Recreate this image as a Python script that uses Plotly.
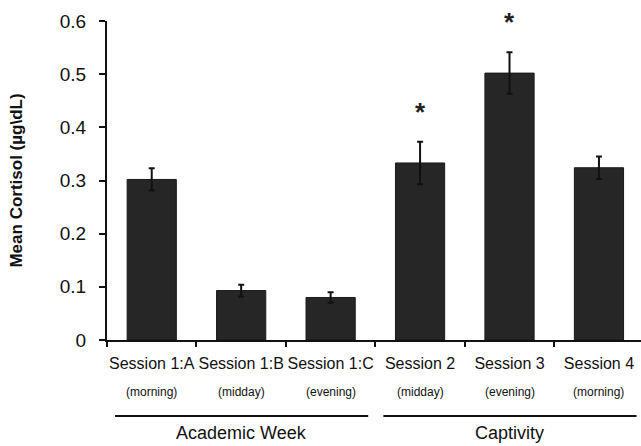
import plotly.graph_objects as go

sessions = ["Session 1:A", "Session 1:B", "Session 1:C", "Session 2", "Session 3", "Session 4"]
times = ["(morning)", "(midday)", "(evening)", "(midday)", "(evening)", "(morning)"]
cortisol = [0.302, 0.093, 0.080, 0.333, 0.502, 0.324]
sem = [0.021, 0.011, 0.010, 0.040, 0.039, 0.021]
significant = [False, False, False, True, True, False]
groups = ["Academic Week", "Captivity"]
group_members = [[0, 1, 2], [3, 4, 5]]

FONT = "Liberation Sans, Arial, sans-serif"

fig = go.Figure()
fig.add_trace(go.Bar(
    x=sessions, y=cortisol, width=0.55,
    marker=dict(color="#262626", line=dict(color="#1a1a1a", width=1)),
    error_y=dict(type="data", array=sem, visible=True, color="#111111", thickness=2, width=3),
    cliponaxis=False,
))

annotations = []
for i, (v, e, s) in enumerate(zip(cortisol, sem, significant)):
    if s:
        annotations.append(dict(x=i, y=v + e, xref="x", yref="y", text="<b>*</b>",
                                showarrow=False, font=dict(size=26, color="#222", family=FONT),
                                yanchor="middle", yshift=30))
for i, t in enumerate(times):
    annotations.append(dict(x=i, y=0, xref="x", yref="paper", text=t, showarrow=False,
                            yshift=-52, yanchor="middle", font=dict(size=12, color="#111", family=FONT)))

shapes = []
for g, members in zip(groups, group_members):
    lo, hi = min(members), max(members)
    shapes.append(dict(type="line", xref="x", yref="paper", x0=lo - 0.41, x1=hi + 0.42,
                       ysizemode="pixel", yanchor=0, y0=-76, y1=-76,
                       line=dict(color="#111", width=2)))
    annotations.append(dict(x=(lo + hi) / 2, y=0, xref="x", yref="paper", text=g, showarrow=False,
                            yshift=-93, yanchor="middle", font=dict(size=18, color="#111", family=FONT)))

fig.update_layout(
    width=641, height=446,
    margin=dict(l=107, r=0, t=21, b=106, autoexpand=False),
    plot_bgcolor="white", paper_bgcolor="white",
    showlegend=False,
    font=dict(family=FONT, color="#111"),
    annotations=annotations, shapes=shapes,
    xaxis=dict(
        type="category", range=[-0.5, 5.47], tickson="boundaries", tickangle=0, automargin=False,
        showline=True, linecolor="#111", linewidth=2, ticks="outside", ticklen=5, tickwidth=2,
        tickcolor="#111", showgrid=False, zeroline=False, tickfont=dict(size=16, family=FONT, color="#111"),
        ticklabelstandoff=8,
    ),
    yaxis=dict(
        range=[0, 0.6], showline=True, linecolor="#111", linewidth=2, automargin=False,
        tickvals=[0, 0.1, 0.2, 0.3, 0.4, 0.5, 0.6],
        ticktext=["0", "0.1", "0.2", "0.3", "0.4", "0.5", "0.6"],
        ticks="outside", ticklen=6, tickwidth=2, tickcolor="#111", showgrid=False, zeroline=False,
        tickfont=dict(size=19, family=FONT, color="#111"), ticklabelstandoff=9,
        title=dict(text="<b>Mean Cortisol (µg\\dL)</b>", font=dict(size=17, family=FONT, color="#111"),
                   standoff=33),
    ),
)

fig.write_html("out.html", config={"displayModeBar": False},
               post_script="document.body.style.margin='0';document.body.style.padding='0';")
